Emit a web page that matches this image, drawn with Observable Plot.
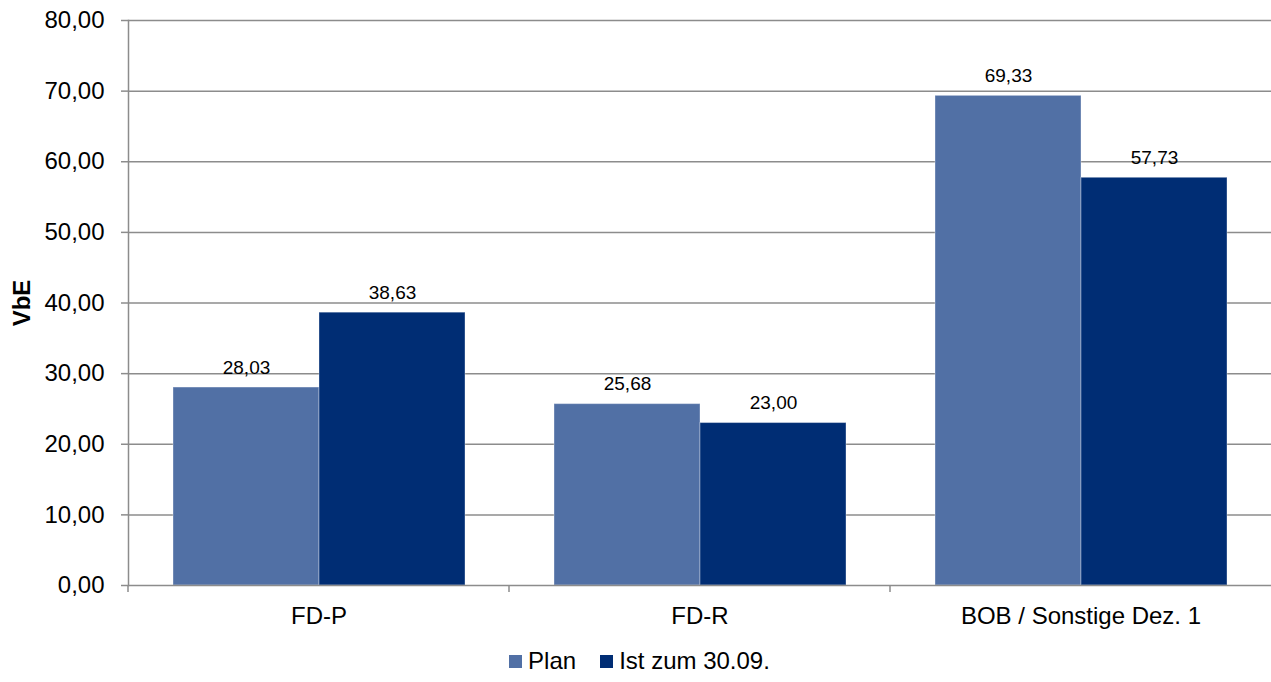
<!DOCTYPE html>
<html>
<head>
<meta charset="utf-8">
<script src="https://cdn.jsdelivr.net/npm/d3@7"></script>
<script src="https://cdn.jsdelivr.net/npm/@observablehq/plot@0.6"></script>
<style>
  body { margin: 0; background: #fff; font-family: "Liberation Sans", Arial, sans-serif; }
  #chart svg { display: block; }
  g[aria-label="y-axis label"] text { font-weight: bold; }
  .legend { display: flex; justify-content: center; align-items: center; font-size: 24px; color: #000; height: 42px; padding-left: 8px; }
  .legend .item { display: flex; align-items: center; margin: 0 12px; }
  .legend .sw { width: 13px; height: 13px; margin-right: 6px; }
</style>
</head>
<body>
<div id="chart"></div>
<div class="legend" id="legend"></div>
<script>
const categories = ["FD-P", "FD-R", "BOB / Sonstige Dez. 1"];
const seriesNames = ["Plan", "Ist zum 30.09."];
const planValues = [28.03, 25.68, 69.33];
const istValues = [38.63, 23.00, 57.73];
const yTicks = [0, 10, 20, 30, 40, 50, 60, 70, 80];
const colors = ["#5170a5", "#002d74"];

const data = [];
categories.forEach((c, i) => {
  data.push({cat: c, series: seriesNames[0], value: planValues[i]});
  data.push({cat: c, series: seriesNames[1], value: istValues[i]});
});

const fmt = v => v.toFixed(2).replace(".", ",");
const axisColor = "#8c8c8c";

const boundaryTicks = (index, scales, values, dims) => {
  const y0 = dims.height - dims.marginBottom;
  return d3.create("svg:line")
    .attr("x1", dims.marginLeft).attr("x2", dims.marginLeft)
    .attr("y1", y0).attr("y2", y0 + 7)
    .attr("stroke", axisColor).attr("stroke-width", 1.5)
    .node();
};

const chart = Plot.plot({
  width: 1271,
  height: 640,
  marginLeft: 127,
  marginRight: 0,
  marginTop: 20,
  marginBottom: 55,
  style: {fontFamily: "'Liberation Sans', Arial, sans-serif", color: "#000", background: "#fff"},
  fx: {domain: categories, padding: 0},
  x: {domain: seriesNames, paddingInner: 0, paddingOuter: 0.3, axis: null},
  y: {domain: [0, 80]},
  color: {domain: seriesNames, range: colors},
  marks: [
    Plot.ruleY(yTicks.filter(d => d > 0), {stroke: axisColor, strokeWidth: 1.5}),
    Plot.barY(data, {fx: "cat", x: "series", y: "value", fill: "series", stroke: "#ffffff", strokeOpacity: 0.35, strokeWidth: 1}),
    Plot.ruleY([0], {stroke: axisColor, strokeWidth: 1.5}),
    Plot.frame({anchor: "left", facetAnchor: "left", stroke: axisColor, strokeWidth: 1.5}),
    boundaryTicks,
    Plot.text(data, {fx: "cat", x: "series", y: "value", text: d => fmt(d.value), dy: -14, lineAnchor: "bottom", fontSize: 19, fill: "#000"}),
    Plot.axisY({ticks: yTicks, tickFormat: fmt, tickSize: 7, tickPadding: 17, fontSize: 24, stroke: axisColor, strokeWidth: 1.5,
      label: "VbE", labelAnchor: "center", labelArrow: "none", labelOffset: 116}),
    Plot.axisFx({anchor: "bottom", tickSize: 0, tickPadding: 21, fontSize: 24, label: null})
  ]
});
document.getElementById("chart").appendChild(chart);

const legend = document.getElementById("legend");
seriesNames.forEach((s, i) => {
  const item = document.createElement("div");
  item.className = "item";
  const sw = document.createElement("div");
  sw.className = "sw";
  sw.style.background = colors[i];
  const t = document.createElement("span");
  t.textContent = s;
  item.appendChild(sw); item.appendChild(t);
  legend.appendChild(item);
});
</script>
</body>
</html>
